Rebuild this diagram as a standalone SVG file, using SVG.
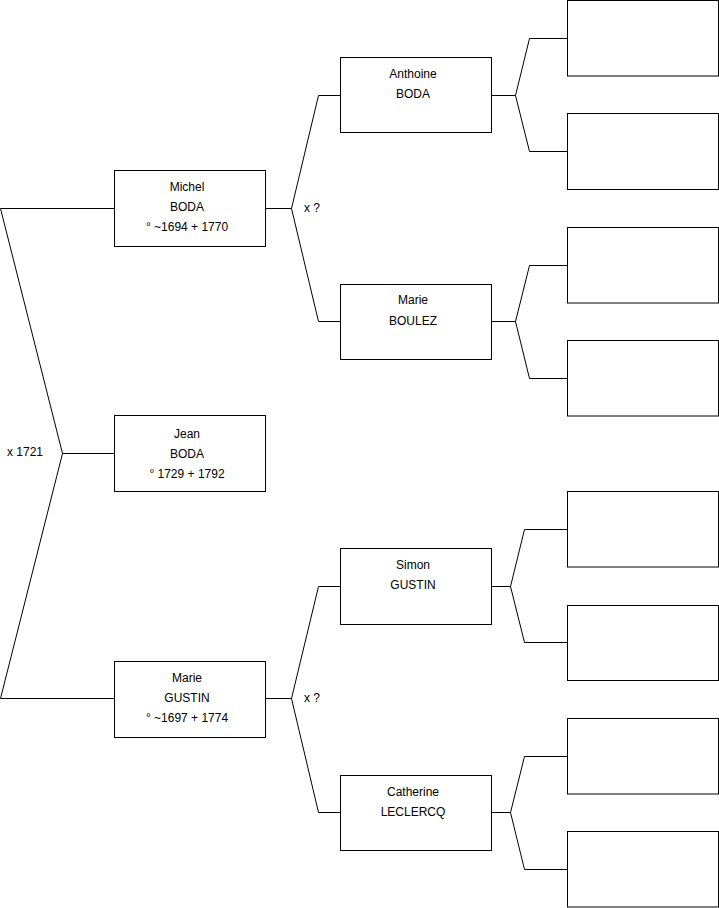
<svg xmlns="http://www.w3.org/2000/svg" width="719" height="908" viewBox="0 0 719 908">
<style>
.n rect{fill:#fff;stroke:#000;stroke-width:1}
.c path{fill:none;stroke:#000;stroke-width:1}
text{font-family:"Liberation Sans",Arial,sans-serif;font-size:12px;fill:#000}
.n text{text-anchor:middle}
</style>
<rect width="719" height="908" fill="#fff"/>
<g class="c" id="connectors">
<path d="M0.5,208.5 H114.5"/>
<path d="M0.5,208.5 L62.5,453.5 L0.5,698.5 H114.5"/>
<path d="M62.5,453.5 H114.5"/>
<path d="M265.5,208.5 H291.5 L318.5,95.5 H340.5"/>
<path d="M291.5,208.5 L318.5,321.5 H340.5"/>
<path d="M265.5,698.5 H291.5 L318.5,586.5 H340.5"/>
<path d="M291.5,698.5 L318.5,812.5 H340.5"/>
<path d="M491.5,95.5 H515.5 L529.5,38.5 H567.5"/>
<path d="M515.5,95.5 L529.5,151.5 H567.5"/>
<path d="M491.5,321.5 H515.5 L529.5,265.5 H567.5"/>
<path d="M515.5,321.5 L529.5,378.5 H567.5"/>
<path d="M491.5,586.5 H510.5 L524.5,529.5 H567.5"/>
<path d="M510.5,586.5 L524.5,642.5 H567.5"/>
<path d="M491.5,812.5 H510.5 L524.5,756.5 H567.5"/>
<path d="M510.5,812.5 L524.5,869.5 H567.5"/>
</g>
<text x="304" y="212">x ?</text>
<text x="304" y="702">x ?</text>
<text x="7" y="456">x 1721</text>
<g class="n" id="michel"><rect x="114.5" y="170.5" width="151" height="76"/><text x="187" y="191">Michel</text><text x="187" y="211">BODA</text><text x="187" y="231">° ~1694 + 1770</text></g>
<g class="n" id="jean"><rect x="114.5" y="415.5" width="151" height="76"/><text x="187" y="438">Jean</text><text x="187" y="458">BODA</text><text x="187" y="478">° 1729 + 1792</text></g>
<g class="n" id="marie-gustin"><rect x="114.5" y="661.5" width="151" height="76"/><text x="187" y="682">Marie</text><text x="187" y="702">GUSTIN</text><text x="187" y="722">° ~1697 + 1774</text></g>
<g class="n" id="anthoine"><rect x="340.5" y="57.5" width="151" height="75"/><text x="413" y="78">Anthoine</text><text x="413" y="98">BODA</text></g>
<g class="n" id="marie-boulez"><rect x="340.5" y="284.5" width="151" height="75"/><text x="413" y="304">Marie</text><text x="413" y="325">BOULEZ</text></g>
<g class="n" id="simon"><rect x="340.5" y="548.5" width="151" height="76"/><text x="413" y="569">Simon</text><text x="413" y="589">GUSTIN</text></g>
<g class="n" id="catherine"><rect x="340.5" y="775.5" width="151" height="75"/><text x="413" y="796">Catherine</text><text x="413" y="816">LECLERCQ</text></g>
<g class="n" id="p1"><rect x="567.5" y="0.5" width="151" height="75.5"/></g>
<g class="n" id="p2"><rect x="567.5" y="113.5" width="151" height="76"/></g>
<g class="n" id="p3"><rect x="567.5" y="227.5" width="151" height="75.5"/></g>
<g class="n" id="p4"><rect x="567.5" y="340.5" width="151" height="75.5"/></g>
<g class="n" id="p5"><rect x="567.5" y="491.5" width="151" height="75.5"/></g>
<g class="n" id="p6"><rect x="567.5" y="605.5" width="151" height="75"/></g>
<g class="n" id="p7"><rect x="567.5" y="718.5" width="151" height="75.5"/></g>
<g class="n" id="p8"><rect x="567.5" y="831.5" width="151" height="75.5"/></g>
</svg>
